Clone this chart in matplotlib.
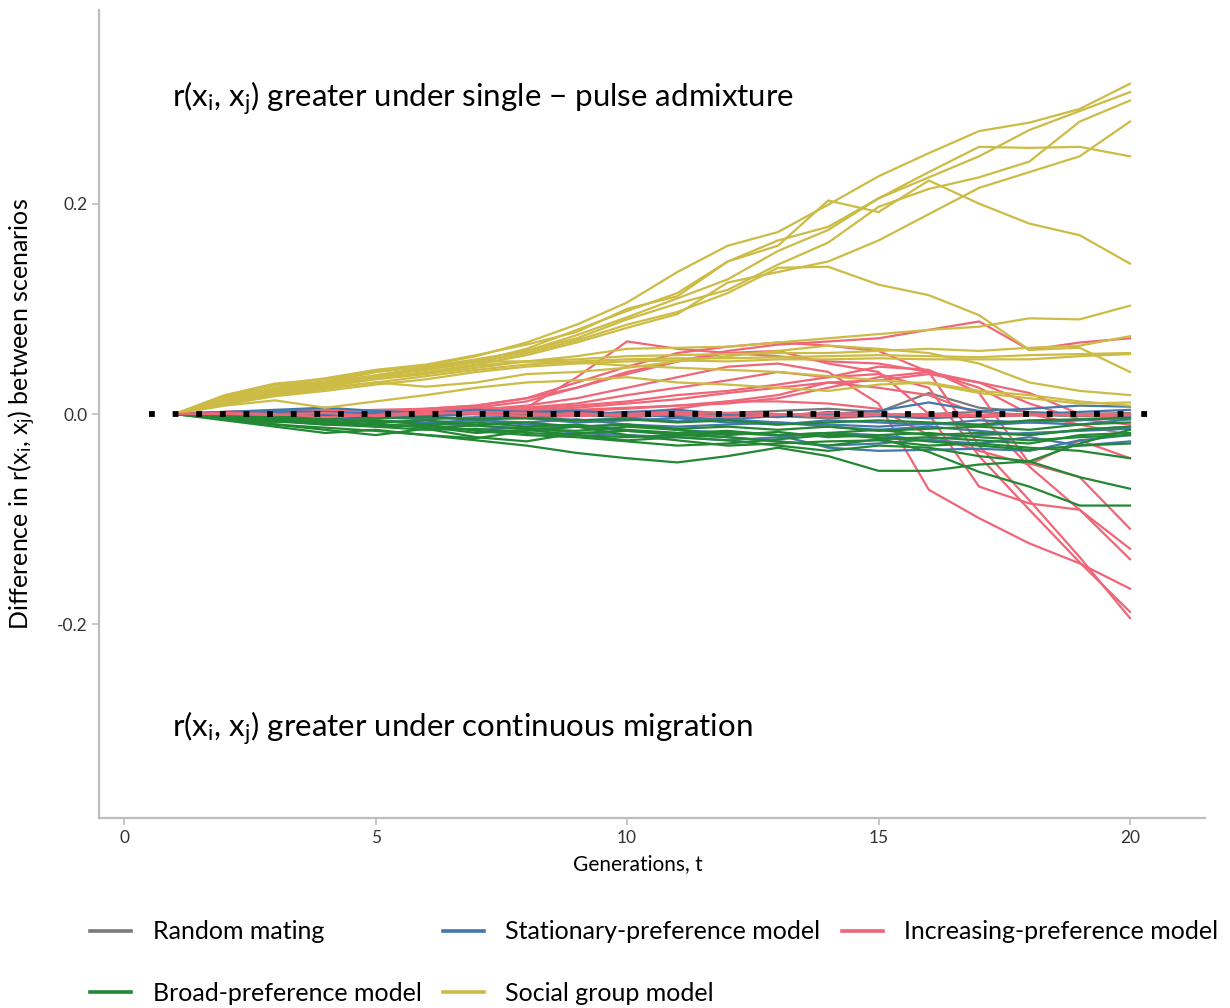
import matplotlib
matplotlib.use("Agg")
import matplotlib.pyplot as plt
from matplotlib.lines import Line2D

plt.rcParams['font.family'] = ['Lato', 'DejaVu Sans']
plt.rcParams['mathtext.default'] = 'regular'

# generations
t = list(range(1, 21))

# difference in r(xi, xj), one list per simulation run
rnd1 = [0, .001, .000, -.002, .001, .003, .001, -.001, .002, .000, -.002, .001, .003, .005, .002, .020, .006, .002, .000, -.002]
rnd2 = [0, -.001, .001, .000, -.002, -.001, .001, .000, -.001, .002, .000, -.002, -.001, .001, -.001, .000, .002, -.001, .000, .001]
rnd3 = [0, .000, -.002, -.001, .000, .002, .000, -.002, -.001, -.003, -.001, .000, -.002, -.004, -.002, -.001, -.003, -.001, -.002, -.003]

sta1 = [0, -.002, -.004, -.003, -.006, -.008, -.006, -.010, -.012, -.010, -.015, -.018, -.020, -.032, -.035, -.034, -.033, -.035, -.025, -.020]
sta2 = [0, .001, .003, .002, .000, -.002, .000, .002, .003, .000, -.003, -.005, -.002, .000, .003, .011, .003, .005, .008, .007]
sta3 = [0, -.001, -.003, -.005, -.004, -.002, -.006, -.008, -.005, -.010, -.012, -.010, -.008, -.012, -.015, -.012, -.016, -.020, -.015, -.012]
sta4 = [0, .000, -.002, -.001, -.003, -.005, -.003, -.004, -.008, -.006, -.004, -.008, -.010, -.006, -.008, -.010, -.006, -.008, -.010, -.005]
sta5 = [0, -.002, -.005, -.008, -.010, -.012, -.015, -.013, -.018, -.020, -.022, -.025, -.022, -.018, -.020, -.025, -.028, -.022, -.030, -.026]
sta6 = [0, .002, .004, .006, .003, .001, .004, .002, -.001, .002, .004, .000, -.003, .002, -.002, -.004, -.002, .000, .002, .004]
sta7 = [0, -.001, -.002, -.004, -.007, -.009, -.011, -.014, -.012, -.016, -.018, -.022, -.026, -.030, -.028, -.024, -.020, -.018, -.016, -.014]
sta8 = [0, .000, .001, -.001, .001, -.003, -.004, -.002, -.006, -.004, -.007, -.005, -.008, -.010, -.012, -.009, -.011, -.008, -.006, -.003]

brd1 = [0, -.005, -.010, -.013, -.016, -.020, -.025, -.030, -.037, -.042, -.046, -.040, -.032, -.040, -.054, -.054, -.048, -.045, -.028, -.015]
brd2 = [0, -.003, -.006, -.010, -.012, -.015, -.014, -.018, -.020, -.022, -.020, -.018, -.020, -.018, -.023, -.036, -.055, -.069, -.087, -.087]
brd3 = [0, -.004, -.008, -.006, -.010, -.012, -.018, -.015, -.020, -.025, -.022, -.025, -.030, -.035, -.030, -.032, -.040, -.045, -.060, -.071]
brd4 = [0, -.006, -.012, -.018, -.015, -.020, -.023, -.016, -.012, -.020, -.025, -.030, -.028, -.026, -.025, -.030, -.028, -.032, -.035, -.042]
brd5 = [0, -.002, -.005, -.008, -.006, -.010, -.008, -.012, -.010, -.015, -.018, -.016, -.020, -.018, -.015, -.020, -.018, -.020, -.015, -.012]
brd6 = [0, -.003, -.006, -.004, -.008, -.006, -.010, -.008, -.012, -.010, -.014, -.012, -.015, -.012, -.016, -.014, -.012, -.015, -.010, -.008]
brd7 = [0, -.004, -.010, -.015, -.020, -.014, -.022, -.026, -.018, -.016, -.020, -.022, -.026, -.030, -.024, -.022, -.025, -.028, -.020, -.018]
brd8 = [0, -.001, -.003, -.002, -.004, -.003, -.005, -.004, -.006, -.005, -.008, -.006, -.010, -.008, -.006, -.008, -.010, -.006, -.005, -.004]
brd9 = [0, -.003, -.007, -.010, -.009, -.013, -.011, -.014, -.016, -.012, -.015, -.020, -.017, -.022, -.020, -.018, -.022, -.025, -.022, -.020]
brd10 = [0, -.002, -.004, -.006, -.012, -.010, -.016, -.020, -.022, -.026, -.030, -.028, -.024, -.020, -.022, -.026, -.030, -.034, -.030, -.028]

soc1 = [0, .016, .027, .031, .040, .046, .055, .068, .085, .106, .135, .160, .173, .199, .226, .248, .269, .277, .290, .314]
soc2 = [0, .014, .025, .030, .036, .043, .050, .062, .080, .098, .115, .145, .165, .178, .205, .225, .245, .270, .288, .306]
soc3 = [0, .018, .029, .033, .041, .045, .052, .060, .072, .090, .105, .118, .142, .163, .197, .214, .225, .240, .278, .298]
soc4 = [0, .012, .022, .028, .034, .040, .047, .056, .068, .082, .095, .125, .135, .145, .165, .190, .215, .230, .245, .278]
soc5 = [0, .015, .024, .030, .037, .044, .051, .060, .075, .092, .110, .128, .155, .175, .205, .230, .254, .253, .254, .245]
soc6 = [0, .017, .028, .034, .042, .047, .056, .066, .078, .100, .112, .145, .160, .203, .192, .222, .200, .181, .170, .143]
soc7 = [0, .010, .020, .026, .033, .038, .044, .050, .055, .062, .063, .064, .068, .072, .076, .080, .083, .091, .090, .103]
soc8 = [0, .013, .023, .029, .036, .042, .049, .058, .070, .085, .097, .115, .139, .140, .123, .113, .094, .061, .063, .040]
soc9 = [0, .011, .021, .027, .035, .039, .046, .050, .052, .055, .056, .057, .058, .058, .060, .062, .060, .063, .065, .074]
soc10 = [0, .012, .019, .025, .030, .036, .042, .047, .050, .052, .053, .053, .054, .055, .056, .055, .054, .056, .057, .058]
soc11 = [0, .009, .017, .022, .028, .033, .040, .045, .048, .050, .051, .050, .052, .052, .053, .052, .052, .052, .055, .057]
soc12 = [0, .014, .022, .030, .040, .045, .050, .050, .049, .046, .044, .042, .040, .036, .032, .029, .020, .015, .010, .011]
soc13 = [0, .008, .013, .006, .012, .018, .025, .030, .032, .035, .030, .028, .025, .022, .028, .030, .022, .018, .012, .008]
soc14 = [0, .010, .018, .024, .030, .026, .030, .038, .040, .044, .050, .055, .060, .065, .062, .058, .048, .030, .022, .018]

inc1 = [0, .001, .002, .001, .003, .002, .004, .008, .015, .025, .035, .045, .048, .040, .010, -.072, -.099, -.123, -.142, -.166]
inc2 = [0, .002, .001, .003, .002, .004, .006, .012, .025, .040, .050, .058, .060, .048, .040, .000, -.069, -.085, -.091, -.128]
inc3 = [0, .001, -.001, .002, .001, .003, .002, .006, .010, .018, .025, .032, .040, .035, .038, .025, -.040, -.091, -.141, -.188]
inc4 = [0, .002, .003, .004, .002, .005, .008, .015, .030, .045, .058, .064, .068, .065, .060, .040, -.030, -.082, -.136, -.194]
inc5 = [0, -.001, .001, .002, .001, .002, .004, .005, .008, .012, .018, .022, .028, .035, .045, .042, .020, -.047, -.060, -.109]
inc6 = [0, .001, .002, .000, .002, .003, .002, .004, .006, .010, .014, .020, .025, .030, .025, .018, .000, -.050, -.091, -.138]
inc7 = [0, .000, .001, -.001, -.002, .000, .002, .003, .004, .006, .008, .012, .012, .010, .005, -.020, -.035, -.048, -.025, -.042]
inc8 = [0, .002, .003, .002, .004, .005, .008, .015, .025, .038, .050, .060, .066, .069, .072, .080, .088, .061, .068, .072]
inc9 = [0, .001, .002, .003, .002, .004, .005, .006, .035, .069, .062, .058, .055, .050, .048, .040, .030, .010, -.005, -.010]
inc10 = [0, .000, -.001, .001, -.002, .000, .002, .001, -.001, .000, .002, .001, .000, -.002, -.001, .000, -.001, .000, -.001, -.001]
inc11 = [0, .001, .000, -.003, -.001, .002, .000, -.002, .001, -.002, .000, -.003, -.001, .001, .000, -.002, -.002, -.001, .000, .000]
inc12 = [0, .000, .002, .003, .001, .004, .006, .004, .003, .005, .008, .010, .015, .025, .035, .040, .025, .000, -.010, -.020]
inc13 = [0, -.001, -.002, .000, .003, .002, .000, -.003, -.002, .000, .005, .012, .018, .030, .032, .038, .030, .020, .000, -.005]

random_runs = [rnd1, rnd2, rnd3]
stationary_runs = [sta1, sta2, sta3, sta4, sta5, sta6, sta7, sta8]
broad_runs = [brd1, brd2, brd3, brd4, brd5, brd6, brd7, brd8, brd9, brd10]
social_runs = [soc1, soc2, soc3, soc4, soc5, soc6, soc7, soc8, soc9, soc10, soc11, soc12, soc13, soc14]
increasing_runs = [inc1, inc2, inc3, inc4, inc5, inc6, inc7, inc8, inc9, inc10, inc11, inc12, inc13]

col_random = '#7a7a7a'
col_stat = '#4477AA'
col_inc = '#EE6677'
col_broad = '#228833'
col_social = '#CCBB44'

fig = plt.figure(figsize=(12.3, 10.08), dpi=100)
ax = fig.add_axes([0.0805, 0.1885, 0.8995, 0.8015])

lw = 1.6
for runs, col in [(random_runs, col_random), (increasing_runs, col_inc),
                  (stationary_runs, col_stat), (broad_runs, col_broad),
                  (social_runs, col_social)]:
    for r in runs:
        ax.plot(t, r, color=col, lw=lw, solid_joinstyle='miter')

# the two pink runs that stay on zero sit above the rest
for r in [inc10, inc11]:
    ax.plot(t, r, color=col_inc, lw=lw)

# reference line at zero
ax.plot([0.5, 20.5], [0, 0], color='black', lw=4.2,
        linestyle=(0, (1.0, 3.05)), dash_capstyle='butt', zorder=5)

ax.text(0.96, 0.300, r'r(x$_{i}$, x$_{j}$) greater under single $-$ pulse admixture',
        fontsize=22.5, va='center', ha='left', color='black')
ax.text(0.96, -0.299, r'r(x$_{i}$, x$_{j}$) greater under continuous migration',
        fontsize=22.5, va='center', ha='left', color='black')

ax.set_xlim(-0.5, 21.5)
ax.set_ylim(-0.384, 0.384)
ax.set_xticks([0, 5, 10, 15, 20])
ax.set_yticks([-0.2, 0.0, 0.2])
ax.set_yticklabels(['-0.2', '0.0', '0.2'])

for s in ['top', 'right']:
    ax.spines[s].set_visible(False)
for s in ['left', 'bottom']:
    ax.spines[s].set_color('#bdbdbd')
    ax.spines[s].set_linewidth(1.6)
ax.tick_params(colors='#bdbdbd', labelcolor='#333333', labelsize=12.5, length=5, width=1.2)

ax.set_xlabel('Generations, t', fontsize=15, color='black')
ax.set_ylabel(r'Difference in r(x$_{i}$, x$_{j}$) between scenarios', fontsize=18, color='black')
ax.xaxis.set_label_coords(0.487, -0.045)
ax.yaxis.set_label_coords(-0.055, 0.5)

handles = [Line2D([], [], color=col_random, lw=2.6),
           Line2D([], [], color=col_broad, lw=2.6),
           Line2D([], [], color=col_stat, lw=2.6),
           Line2D([], [], color=col_social, lw=2.6),
           Line2D([], [], color=col_inc, lw=2.6)]
labels = ['Random mating', 'Broad-preference model',
          'Stationary-preference model', 'Social group model',
          'Increasing-preference model']
fig.legend(handles, labels, loc='upper left', bbox_to_anchor=(0.0732, 0.087),
           ncol=3, frameon=False, fontsize=18, handlelength=1.65,
           handletextpad=0.85, columnspacing=0.85, labelspacing=1.55,
           borderpad=0, borderaxespad=0)

fig.savefig('out.png', dpi=100, facecolor='white')
